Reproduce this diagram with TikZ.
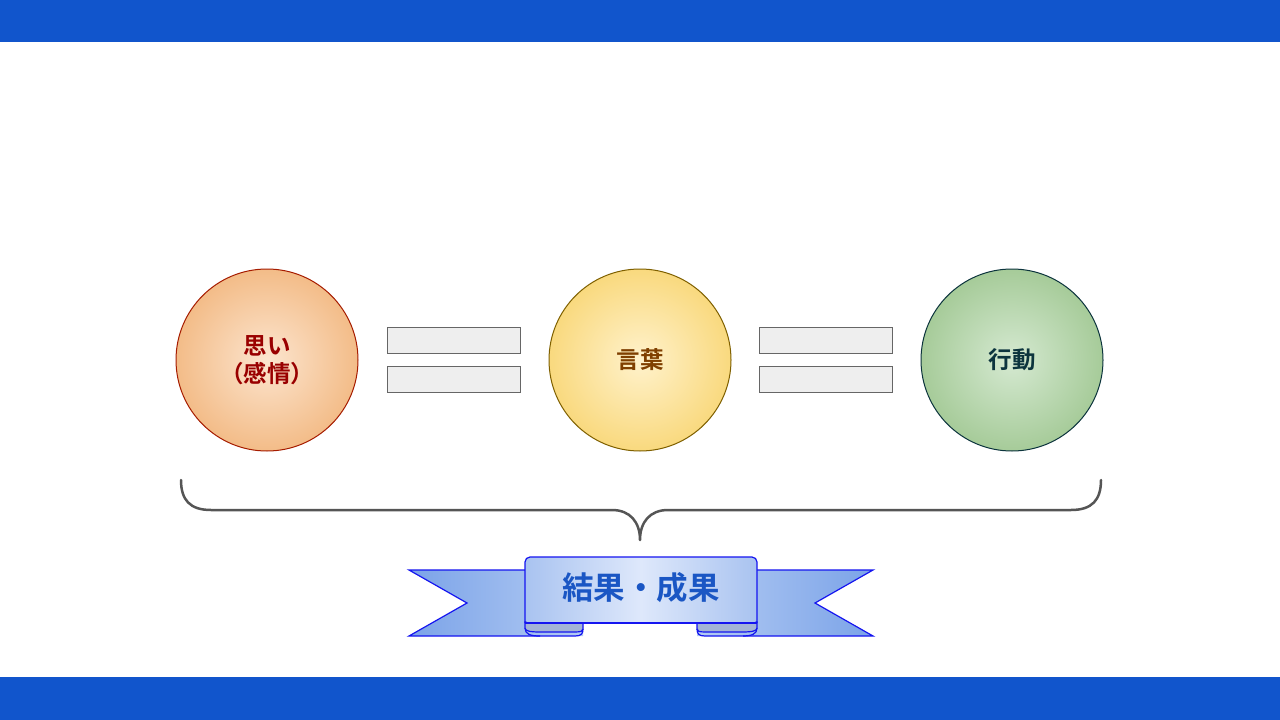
\documentclass[tikz,border=0pt]{standalone}
\usepackage{fontspec}
\setmainfont{Noto Sans CJK JP}[BoldFont={Noto Sans CJK JP Bold}]
\usetikzlibrary{shapes.geometric}
\definecolor{barblue}{HTML}{1155CC}
\definecolor{c1in}{HTML}{FCE5CF}
\definecolor{c1out}{HTML}{F3BC88}
\definecolor{c1line}{HTML}{A61C00}
\definecolor{c1text}{HTML}{990000}
\definecolor{c2in}{HTML}{FFF2CC}
\definecolor{c2out}{HTML}{F9D97E}
\definecolor{c2line}{HTML}{7F6000}
\definecolor{c2text}{HTML}{7F3F00}
\definecolor{c3in}{HTML}{D5E9D1}
\definecolor{c3out}{HTML}{A6CB99}
\definecolor{c3line}{HTML}{0C343D}
\definecolor{c3text}{HTML}{0C343D}
\definecolor{eqfill}{HTML}{EEEEEE}
\definecolor{eqline}{HTML}{666666}
\definecolor{bracec}{HTML}{555555}
\definecolor{ribline}{HTML}{1515F0}
\definecolor{ribdark}{HTML}{7BA3E8}
\definecolor{ribmid}{HTML}{B3CBF3}
\definecolor{ribedge}{HTML}{A9C3F0}
\definecolor{riblight}{HTML}{DEE8FB}
\definecolor{ribfold}{HTML}{A3B4D6}
\definecolor{ribtext}{HTML}{1A56C4}
\tikzset{
  ball/.style={circle, minimum size=182pt, inner sep=0pt, line width=1pt, align=center,
    font=\fontsize{23.5}{28}\selectfont\bfseries},
  eqbar/.style={rectangle, minimum width=133pt, minimum height=26pt, inner sep=0pt,
    fill=eqfill, draw=eqline, line width=1pt},
  ribshape/.style={draw=ribline, line width=1.2pt, line join=miter},
}
\begin{document}
\begin{tikzpicture}[x=1pt,y=-1pt]
\useasboundingbox (0,0) rectangle (1280,720);
\fill[white] (0,0) rectangle (1280,720);
\fill[barblue] (0,0) rectangle (1280,42);
\fill[barblue] (0,677) rectangle (1280,720);

% circles
\node[ball, draw=c1line, inner color=c1in, outer color=c1out, text=c1text] (omoi) at (267,360) {思い\\（感情）};
\node[ball, draw=c2line, inner color=c2in, outer color=c2out, text=c2text] (kotoba) at (640,360) {言葉};
\node[ball, draw=c3line, inner color=c3in, outer color=c3out, text=c3text] (kodo) at (1012,360) {行動};

% equals signs
\node[eqbar] (eq1a) at (453.5,340) {};
\node[eqbar] (eq1b) at (453.5,379) {};
\node[eqbar] (eq2a) at (826,340) {};
\node[eqbar] (eq2b) at (826,379) {};

% brace
\coordinate (bl) at (181,480);
\coordinate (br) at (1101,480);
\coordinate (btip) at (640,540);
\draw[bracec, line width=2.5pt, line cap=round, line join=round]
  (bl) .. controls (181,500) and (190,510) .. (211,510) -- (612,510)
  .. controls (630,510) and (640,522) .. (btip)
  .. controls (640,522) and (650,510) .. (668,510) -- (1071,510)
  .. controls (1092,510) and (1101,500) .. (br);

% ribbon tails
\shade[left color=ribdark, right color=ribmid] (409,570) -- (583,570) -- (583,636) -- (409,636) -- (467,603) -- cycle;
\draw[ribshape] (525,570) -- (409,570) -- (467,603) -- (409,636) -- (540,636);
\shade[left color=ribmid, right color=ribdark] (873,570) -- (697,570) -- (697,636) -- (873,636) -- (815,603) -- cycle;
\draw[ribshape] (757,570) -- (873,570) -- (815,603) -- (873,636) -- (743,636);

% folds
\filldraw[ribshape, fill=ribfold] (525,622) -- (525,628) .. controls (525,631) and (530,632) .. (540,632)
  -- (575,632) .. controls (581,632) and (583,631) .. (583,629) -- (583,622) -- cycle;
\draw[ribshape] (525,628) .. controls (525,634) and (530,636) .. (540,636) -- (575,636)
  .. controls (581,636) and (583,634) .. (583,629);
\filldraw[ribshape, fill=ribfold] (757,622) -- (757,628) .. controls (757,631) and (752,632) .. (742,632)
  -- (705,632) .. controls (699,632) and (697,631) .. (697,629) -- (697,622) -- cycle;
\draw[ribshape] (757,628) .. controls (757,634) and (752,636) .. (742,636) -- (705,636)
  .. controls (699,636) and (697,634) .. (697,629);

% band
\shade[left color=ribedge, right color=ribedge, middle color=riblight, rounded corners=5pt]
  (525,623) -- (525,557) -- (757,557) -- (757,623) -- cycle;
\draw[ribshape, rounded corners=5pt] (525,623) -- (525,557) -- (757,557) -- (757,623);
\draw[ribshape] (525,623) -- (757,623);
\node[font=\fontsize{31.5}{34}\selectfont\bfseries, text=ribtext] (result) at (641,588) {結果・成果};
\end{tikzpicture}
\end{document}
